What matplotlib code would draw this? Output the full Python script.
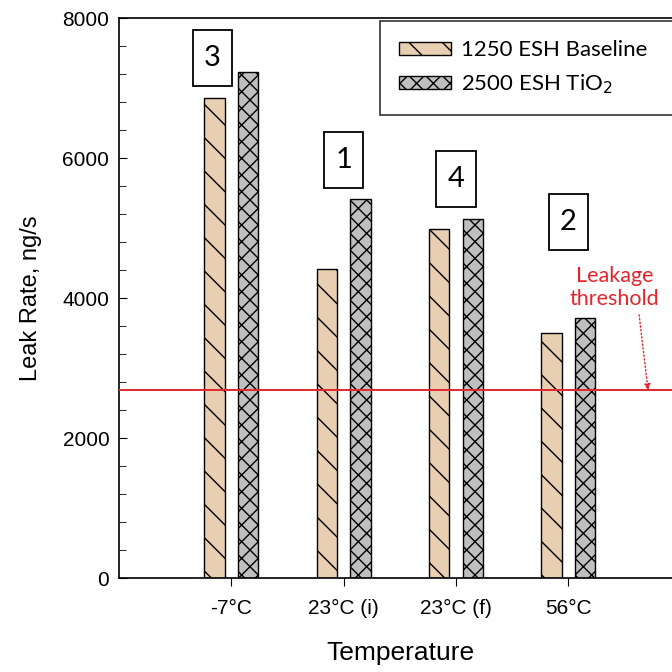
import matplotlib
matplotlib.use("Agg")
import matplotlib.pyplot as plt
import numpy as np
from matplotlib.path import Path

# values
temperatures = ["-7°C", "23°C (i)", "23°C (f)", "56°C"]
baseline_1250 = [6860, 4410, 4990, 3500]
tio2_2500 = [7225, 5420, 5125, 3710]
test_order = ["3", "1", "4", "2"]
order_box_y = [7430, 5970, 5700, 5085]
threshold = 2680

RED = "#e3262d"
TAN = "#e9cfb2"
GREY = "#bfbfbf"

plt.rcParams["hatch.linewidth"] = 1.0
plt.rcParams["font.family"] = ["Liberation Sans", "DejaVu Sans"]


def tall_box(x0, y0, width, height, mutation_size):
    # square box, more padding top/bottom than at the sides
    px, py = 0.38 * mutation_size, 0.52 * mutation_size
    x0, y0 = x0 - px, y0 - py
    x1, y1 = x0 + width + 2 * px, y0 + height + 2 * py
    return Path([(x0, y0), (x1, y0), (x1, y1), (x0, y1), (x0, y0)], closed=True)


fig = plt.figure(figsize=(6.72, 6.72), dpi=100)
# axes runs off the right edge, like the cropped original
ax = fig.add_axes([119 / 672, 1 - 578 / 672, 674 / 672, 560 / 672])

x = np.arange(len(temperatures))
w, off = 0.18, 0.15
ax.bar(x - off, baseline_1250, w, color=TAN, edgecolor="black", lw=1.0,
       hatch="\\", label="1250 ESH Baseline", zorder=2)
ax.bar(x + off, tio2_2500, w, color=GREY, edgecolor="black", lw=1.0,
       hatch="xx", label="2500 ESH TiO$_2$", zorder=2)

ax.axhline(threshold, color=RED, lw=1.4, zorder=3)

for xi, lab, yb in zip(x, test_order, order_box_y):
    ax.text(xi - 0.17 if lab == "3" else xi, yb, lab, ha="center", va="center",
            fontsize=21, family=["Lato", "DejaVu Sans"],
            bbox=dict(boxstyle=tall_box, fc="white", ec="black", lw=1.3))

ax.text(3.41, 4150, "Leakage\nthreshold", color=RED, ha="center", va="center",
        fontsize=15.5, family=["Lato", "DejaVu Sans"], linespacing=1.2)
ax.annotate("", xy=(3.71, threshold), xytext=(3.63, 3760),
            arrowprops=dict(arrowstyle="-|>", color=RED, lw=1.0, ls=":",
                            mutation_scale=9, shrinkA=0, shrinkB=0))

ax.set_xlim(-1, 5)
ax.set_ylim(0, 8000)
ax.set_xticks(x)
ax.set_xticklabels(temperatures)
ax.set_yticks(np.arange(0, 8001, 2000))
ax.set_yticks(np.arange(0, 8001, 400), minor=True)
ax.tick_params(axis="y", which="both", direction="in", labelsize=15, pad=7)
ax.tick_params(axis="y", which="major", length=6)
ax.tick_params(axis="y", which="minor", length=5)
ax.tick_params(axis="x", direction="out", length=6, labelsize=15, pad=9)
for s in ax.spines.values():
    s.set_linewidth(1.2)

ax.set_ylabel("Leak Rate, ng/s", fontsize=17, labelpad=15)
ax.set_xlabel("Temperature", fontsize=19)
ax.xaxis.set_label_coords((400 - 119) / 674, -0.113)

leg = ax.legend(loc="upper left", bbox_to_anchor=(380 / 672, 1 - 22 / 672, 340 / 672, 0.001),
                bbox_transform=fig.transFigure, mode="expand", borderaxespad=0,
                prop={"family": ["Lato", "DejaVu Sans"], "size": 16},
                handlelength=2.35, handleheight=0.5, handletextpad=0.45,
                labelspacing=0.55, borderpad=0.85, fancybox=False, frameon=True)
leg.get_frame().set_edgecolor("black")
leg.get_frame().set_linewidth(1.2)

fig.savefig("out.png", dpi=100)
